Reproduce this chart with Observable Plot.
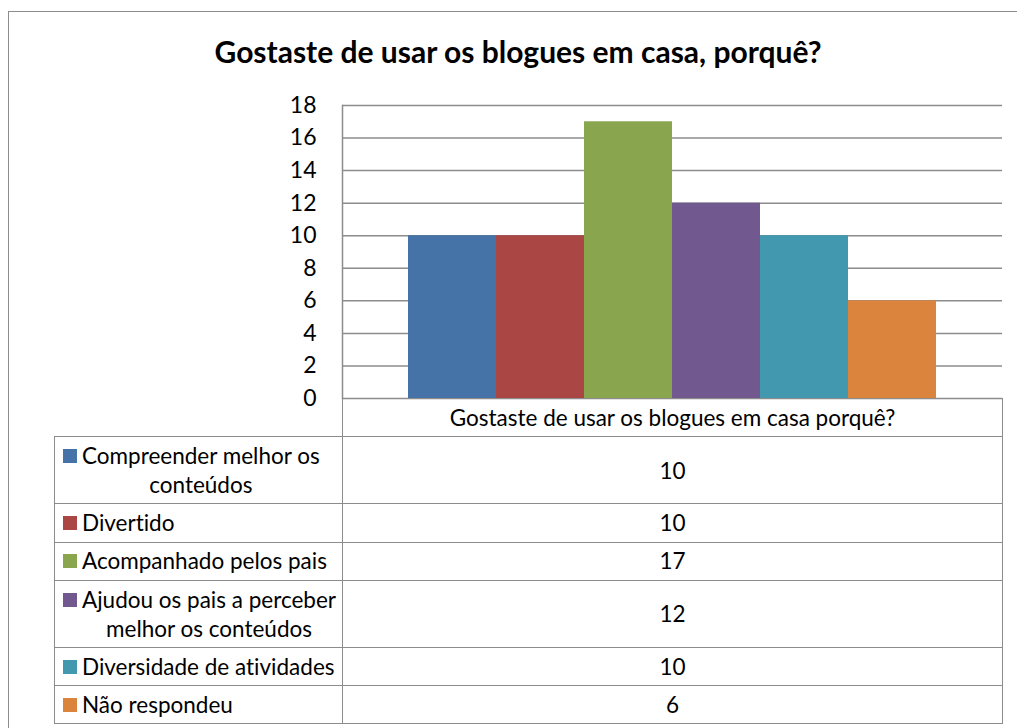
<!DOCTYPE html>
<html><head><meta charset="utf-8">
<script src="https://cdn.jsdelivr.net/npm/d3@7"></script>
<script src="https://cdn.jsdelivr.net/npm/@observablehq/plot@0.6"></script>
<style>
html,body{margin:0;padding:0;background:#fff;overflow:hidden;}
#root{position:relative;width:1017px;height:728px;font-family:Lato,sans-serif;color:#000;overflow:hidden;font-variant-ligatures:none;}
#frame{position:absolute;left:8px;top:11px;width:1100px;height:800px;border:1.5px solid #8c8c8c;box-sizing:border-box;}
#title{position:absolute;left:8px;width:1020px;top:34px;text-align:center;font-weight:bold;font-size:30px;line-height:34px;white-space:nowrap;}
#chart{position:absolute;left:0;top:0;}
#tbl{position:absolute;left:54px;top:398px;border-collapse:collapse;table-layout:fixed;font-size:22.5px;line-height:29.3px;}
#tbl td{border:1.5px solid #8c8c8c;padding:3.9px 4px;text-align:center;white-space:nowrap;}
#tbl td.leg{text-align:left;padding-left:8px;}
#tbl td.empty{border:none;}
#tbl td.hdr{font-size:22.5px;}
.sw{display:inline-block;width:14px;height:14px;margin-right:5px;vertical-align:top;margin-top:8px;}
.lt{display:inline-block;text-align:center;vertical-align:top;}
</style></head>
<body><div id="root"><div id="frame"></div><div id="title"></div><div id="chart"></div><table id="tbl"><colgroup><col style="width:288px"><col style="width:660px"></colgroup><tbody></tbody></table></div>
<script>
const titleText = "Gostaste de usar os blogues em casa, porquê?";
const headerText = "Gostaste de usar os blogues em casa porquê?";
const categories = ["Compreender melhor os conteúdos","Divertido","Acompanhado pelos pais","Ajudou os pais a perceber melhor os conteúdos","Diversidade de atividades","Não respondeu"];
const values = [10, 10, 17, 12, 10, 6];
const colors = ["#4572A7","#AA4643","#89A54E","#71588F","#4198AF","#DB843D"];
const yTicks = [0,2,4,6,8,10,12,14,16,18];

document.getElementById("title").textContent = titleText;

const data = categories.map((c,i)=>({cat:c, value:values[i]}));
const chart = Plot.plot({
  width: 1017, height: 400,
  marginLeft: 342, marginRight: 15, marginTop: 105, marginBottom: 2,
  style: {fontFamily: "Lato, sans-serif", fontSize: "23px", color: "#000", background: "transparent", overflow: "visible"},
  x: {domain: categories, paddingInner: 0, paddingOuter: 0.736, axis: null},
  y: {domain: [0, 18], axis: null},
  color: {domain: categories, range: colors},
  marks: [
    Plot.ruleY(yTicks, {stroke: "#8c8c8c", strokeWidth: 1.5, strokeOpacity: 1}),
    Plot.barY(data, {x: "cat", y: "value", fill: "cat"}),
    Plot.frame({anchor: "left", stroke: "#8c8c8c", strokeWidth: 1.5, strokeOpacity: 1}),
    Plot.axisY(yTicks, {tickSize: 0, tickPadding: 26, label: null, fill: "#000"})
  ]
});
document.getElementById("chart").appendChild(chart);

// greedy word wrap of legend labels to the text width available in the cell
const ctx = document.createElement("canvas").getContext("2d");
ctx.font = "22.5px Lato";
function wrap(text, maxW) {
  const words = text.split(" "); const lines = []; let cur = "";
  for (const w of words) {
    const t = cur ? cur + " " + w : w;
    if (cur && ctx.measureText(t).width > maxW) { lines.push(cur); cur = w; } else cur = t;
  }
  if (cur) lines.push(cur);
  return lines;
}

const tb = document.querySelector("#tbl tbody");
const hr = document.createElement("tr");
hr.innerHTML = '<td class="empty"></td><td class="hdr"></td>';
hr.children[1].textContent = headerText;
tb.appendChild(hr);
categories.forEach((c,i)=>{
  const tr = document.createElement("tr");
  const td1 = document.createElement("td"); td1.className = "leg";
  const sw = document.createElement("span"); sw.className="sw"; sw.style.background = colors[i];
  const lt = document.createElement("span"); lt.className = "lt";
  wrap(c, 256).forEach((line, k) => {
    if (k) lt.appendChild(document.createElement("br"));
    lt.appendChild(document.createTextNode(line));
  });
  td1.appendChild(sw); td1.appendChild(lt);
  const td2 = document.createElement("td"); td2.textContent = values[i];
  tr.appendChild(td1); tr.appendChild(td2); tb.appendChild(tr);
});
</script></body></html>
